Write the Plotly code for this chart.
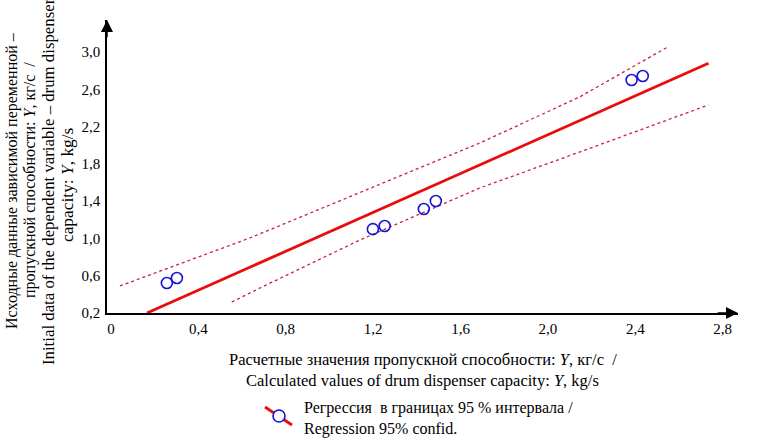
import plotly.graph_objects as go

# observed points: calculated vs initial capacity, kg/s
x_calc = [0.256, 0.302, 1.199, 1.253, 1.432, 1.487, 2.383, 2.434]
y_obs = [0.522, 0.576, 1.10, 1.133, 1.316, 1.402, 2.70, 2.743]

# regression line ends
reg_x = [0.165, 2.735]
reg_y = [0.2, 2.88]

# 95% confidence bands
up_x = [0.041, 0.636, 1.688, 2.145, 2.548]
up_y = [0.49, 1.005, 2.024, 2.518, 3.054]
lo_x = [0.553, 0.682, 1.139, 1.688, 2.145, 2.735]
lo_y = [0.318, 0.468, 0.983, 1.541, 1.927, 2.432]

xticks = [0, 0.4, 0.8, 1.2, 1.6, 2.0, 2.4, 2.8]
xlabels = ["0", "0,4", "0,8", "1,2", "1,6", "2,0", "2,4", "2,8"]
yticks = [0.2, 0.6, 1.0, 1.4, 1.8, 2.2, 2.6, 3.0]
ylabels = ["0,2", "0,6", "1,0", "1,4", "1,8", "2,2", "2,6", "3,0"]

x_title = ["Расчетные значения пропускной способности: <i>Y</i>, кг/с  /",
           "Calculated values of drum dispenser capacity: <i>Y</i>, kg/s"]
y_title = ["Исходные данные зависимой переменной –",
           "пропускной способности: <i>Y</i>, кг/с  /",
           "Initial data of the dependent variable – drum dispenser",
           "capacity: <i>Y</i>, kg/s"]
legend_text = "Регрессия  в границах 95 % интервала /<br>Regression 95% confid."

FONT = "Liberation Serif, Times New Roman, serif"
RED = "rgb(232,12,12)"
BAND = "rgb(205,30,60)"
BLUE = "rgb(20,20,215)"

fig = go.Figure()
fig.add_trace(go.Scatter(x=up_x, y=up_y, mode="lines",
                         line=dict(color=BAND, width=1.3, dash="dot")))
fig.add_trace(go.Scatter(x=lo_x, y=lo_y, mode="lines",
                         line=dict(color=BAND, width=1.3, dash="dot")))
fig.add_trace(go.Scatter(x=reg_x, y=reg_y, mode="lines",
                         line=dict(color=RED, width=2.8)))
fig.add_trace(go.Scatter(x=x_calc, y=y_obs, mode="markers",
                         marker=dict(symbol="circle-open", size=11, color=BLUE,
                                     line=dict(width=1.6, color=BLUE))))

x_rng = [-0.018, 2.87]
y_rng = [0.2, 3.344]

fig.update_layout(
    width=767, height=441,
    margin=dict(l=107, r=29, t=20, b=128),
    paper_bgcolor="white", plot_bgcolor="white",
    showlegend=False,
    font=dict(family=FONT, size=15, color="black"),
    xaxis=dict(range=x_rng, tickvals=xticks, ticktext=xlabels,
               showgrid=False, zeroline=False, showline=True,
               linecolor="black", linewidth=1.5, ticks="",
               ticklabelstandoff=1),
    yaxis=dict(range=y_rng, tickvals=yticks, ticktext=ylabels,
               showgrid=False, zeroline=False, showline=True,
               linecolor="black", linewidth=1.5, ticks="",
               ticklabelstandoff=2),
)

# axis arrowheads
fig.add_annotation(x=x_rng[1], y=y_rng[0], ax=x_rng[1] - 0.1, ay=y_rng[0],
                   xref="x", yref="y", axref="x", ayref="y", text="",
                   showarrow=True, arrowhead=2, arrowsize=1.6,
                   arrowwidth=1.5, arrowcolor="black")
fig.add_annotation(x=x_rng[0], y=y_rng[1], ax=x_rng[0], ay=y_rng[1] - 0.2,
                   xref="x", yref="y", axref="x", ayref="y", text="",
                   showarrow=True, arrowhead=2, arrowsize=1.6,
                   arrowwidth=1.5, arrowcolor="black")

# axis titles, one annotation per line to keep the line spacing
for txt, yp in zip(x_title, [-0.1604, -0.2287]):
    fig.add_annotation(xref="paper", yref="paper", x=0.5, y=yp,
                       xanchor="center", yanchor="middle", showarrow=False,
                       text=txt, font=dict(size=16.5))
for txt, xp, yp, fs in zip(y_title, [-0.1506, -0.1220, -0.0935, -0.0634],
                           [0.454, 0.454, 0.447, 0.44],
                           [16, 16, 16.8, 17.4]):
    fig.add_annotation(xref="paper", yref="paper", x=xp, y=yp,
                       xanchor="center", yanchor="middle", showarrow=False,
                       textangle=-90, text=txt, font=dict(size=fs))

# legend drawn by hand (diagonal line with circle)
fig.add_shape(type="line", xref="paper", yref="paper",
              x0=0.2504, y0=-0.3208, x1=0.2932, y1=-0.3823,
              line=dict(color=RED, width=2.8))
fig.add_shape(type="circle", xref="paper", yref="paper",
              x0=0.2631, y0=-0.3310, x1=0.2821, y1=-0.3720,
              fillcolor="white", line=dict(color=BLUE, width=1.6))
fig.add_annotation(xref="paper", yref="paper", x=0.309, y=-0.360,
                   xanchor="left", yanchor="middle", align="left",
                   showarrow=False, text=legend_text, font=dict(size=16))

fig.write_html("out.html", config={"displayModeBar": False},
               post_script="document.body.style.margin='0';")
